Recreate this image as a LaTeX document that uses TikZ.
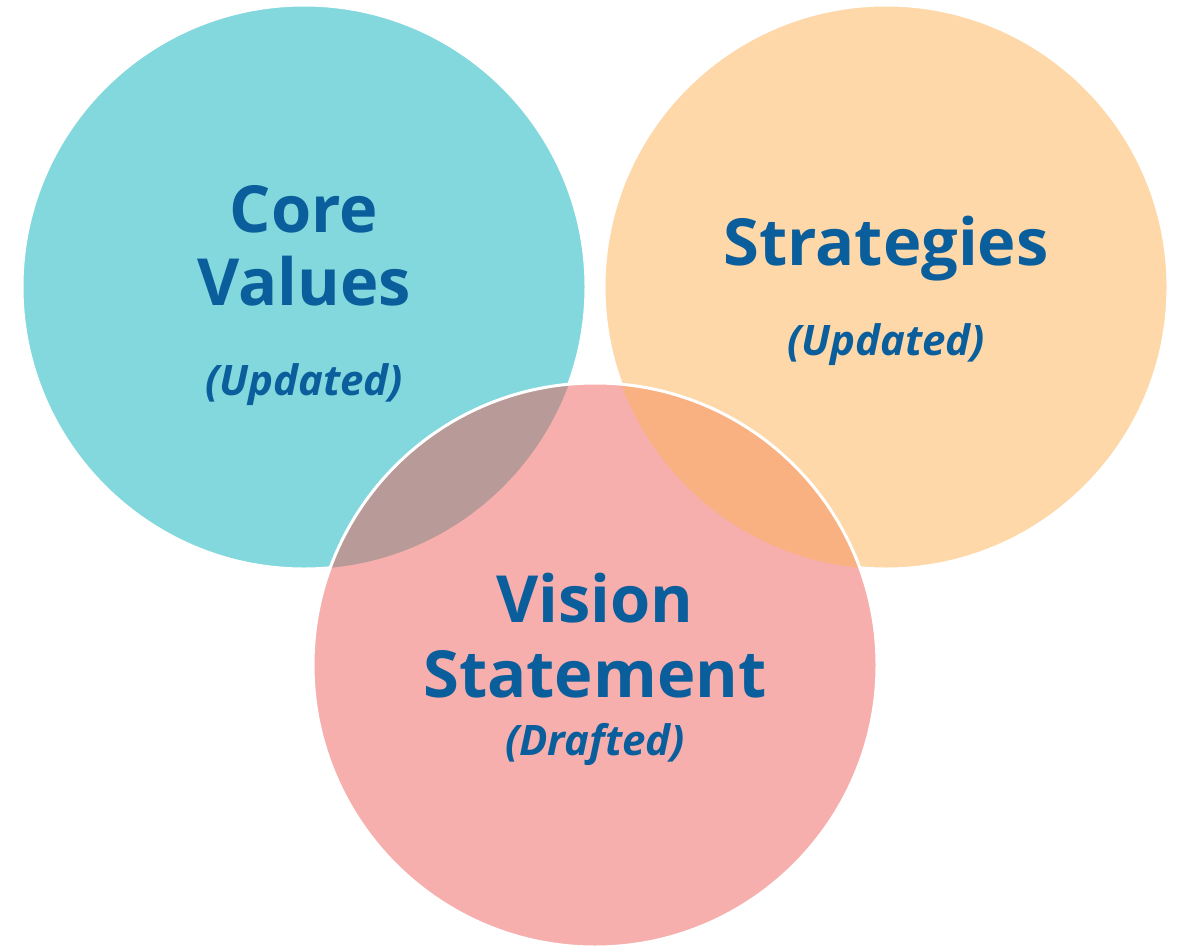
\documentclass[tikz,border=0pt]{standalone}
\usepackage{fontspec}
\setmainfont{Open Sans}
\definecolor{tealc}{RGB}{130,216,220}
\definecolor{peachc}{RGB}{254,216,168}
\definecolor{pinkc}{RGB}{246,175,173}
\definecolor{lensa}{RGB}{184,155,152}
\definecolor{lensb}{RGB}{249,177,130}
\definecolor{txtc}{RGB}{10,94,155}
\tikzset{
  ring/.style={circle, minimum size=564pt, inner sep=0pt, outer sep=0pt, line width=3pt},
  bigtxt/.style={anchor=base, text=txtc, font=\fontsize{65}{65}\selectfont\bfseries},
  subtxt/.style={anchor=base, text=txtc, font=\fontsize{42}{42}\selectfont\bfseries\itshape}
}
\begin{document}
\begin{tikzpicture}[x=1pt,y=-1pt]
\useasboundingbox (0,0) rectangle (1177,947);
\node[ring, fill=tealc, draw=white] (cv) at (304,287) {};
\node[ring, fill=peachc, draw=white] (st) at (886,287) {};
\node[ring, fill=pinkc] (vs) at (595,665) {};
\begin{scope}
  \clip (304,287) circle[radius=282pt];
  \fill[lensa] (595,665) circle[radius=282pt];
\end{scope}
\begin{scope}
  \clip (886,287) circle[radius=282pt];
  \fill[lensb] (595,665) circle[radius=282pt];
\end{scope}
\draw[white, line width=3pt] (595,665) circle[radius=282pt];
\node[bigtxt] (t1a) at (304,232) {Core};
\node[bigtxt] (t1b) at (304,305) {Values};
\node[subtxt] (t1c) at (304,395) {(Updated)};
\node[bigtxt] (t2a) at (886,265) {Strategies};
\node[subtxt] (t2b) at (886,355) {(Updated)};
\node[bigtxt] (t3a) at (595,622) {Vision};
\node[bigtxt] (t3b) at (595,697) {Statement};
\node[subtxt] (t3c) at (595,755) {(Drafted)};
\end{tikzpicture}
\end{document}
